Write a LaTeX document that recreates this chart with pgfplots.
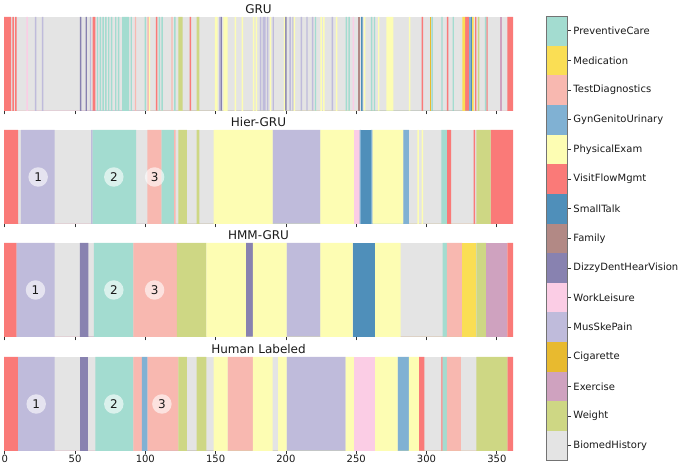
\documentclass[border=0pt]{standalone}
\usepackage{pgfplots}
\pgfplotsset{compat=1.18}
\usepackage{fontspec}
\setmainfont{DejaVu Sans}
\definecolor{cPrev}{RGB}{163,220,208}
\definecolor{cMed}{RGB}{250,222,84}
\definecolor{cTest}{RGB}{248,184,176}
\definecolor{cGyn}{RGB}{128,177,211}
\definecolor{cPhys}{RGB}{253,253,179}
\definecolor{cVisit}{RGB}{250,122,120}
\definecolor{cSmall}{RGB}{79,143,186}
\definecolor{cFam}{RGB}{178,137,133}
\definecolor{cDizzy}{RGB}{136,130,176}
\definecolor{cWork}{RGB}{251,205,229}
\definecolor{cMus}{RGB}{191,187,219}
\definecolor{cCig}{RGB}{232,186,47}
\definecolor{cExer}{RGB}{207,162,191}
\definecolor{cWeight}{RGB}{206,215,132}
\definecolor{cBio}{RGB}{228,228,228}
\pgfplotsset{
  panel/.style={scale only axis, width=381.75pt, height=70.5pt,
    xmin=-0.5, xmax=361.5, ymin=0, ymax=1, anchor=south west,
    axis x line*=bottom, axis y line=none, x axis line style={draw=none},
    xtick={0,50,...,350}, tick align=outside, major tick length=2.6pt,
    xtick style={color=black!80, line width=0.6pt}, ytick=\empty,
    every axis title/.style={at={(0.5,1)}, anchor=base, yshift=2.5pt,
      font=\fontsize{9}{11}\selectfont, text=black!90},
    xticklabel style={font=\fontsize{7.5}{9}\selectfont, text=black!90, inner sep=1pt, yshift=0.5pt},
    /pgf/number format/assume math mode=true},
  seg/.style={ybar interval, fill=#1, draw=none, forget plot},
  ann/.style={only marks, color=white, mark=*, mark size=7.3pt,
    mark options={fill=white, draw=white, draw opacity=0, fill opacity=0.6},
    nodes near coords, point meta=explicit symbolic,
    nodes near coords align={center},
    every node near coord/.append style={font=\fontsize{9}{10}\selectfont, text=black!90, text opacity=1, anchor=center}}
}
\begin{document}
\begin{tikzpicture}
\path[use as bounding box] (0,0) rectangle (510pt,349.5pt);
% ---------------- GRU
\begin{axis}[panel, at={(3pt,266.25pt)}, title={GRU}, xticklabels={}]
\addplot[seg=cBio] coordinates {(-0.5,1)(361.5,0)};
\addplot[seg=cVisit] coordinates {(-0.5,1)(4.5,0)(5.5,1)(6.5,0)(7.5,1)(8.5,0)(62.5,1)(64.5,0)(107.5,1)(108.5,0)(131.5,1)(132.5,0)(296.5,1)(297.5,0)(314.5,1)(315.5,0)(327.5,1)(330.5,0)(334.5,1)(335.5,0)(342.5,1)(343.5,0)(357.5,1)(361.5,0)};
\addplot[seg=cWork] coordinates {(15.5,1)(16.5,0)(247.5,1)(248.5,0)};
\addplot[seg=cMus] coordinates {(21.5,1)(22.5,0)(26.5,1)(27.5,0)(60.5,1)(61.5,0)(152.5,1)(153.5,0)(181.5,1)(182.5,0)(183.5,1)(185.5,0)(186.5,1)(187.5,0)(190.5,1)(191.5,0)(202.5,1)(203.5,0)(204.5,1)(205.5,0)(210.5,1)(211.5,0)(214.5,1)(215.5,0)(218.5,1)(219.5,0)(232.5,1)(233.5,0)};
\addplot[seg=cDizzy] coordinates {(53.5,1)(54.5,0)(57.5,1)(58.5,0)(153.5,1)(154.5,0)(199.5,1)(200.5,0)};
\addplot[seg=cPrev] coordinates {(65.5,1)(66.5,0)(67.5,1)(68.5,0)(69.5,1)(70.5,0)(71.5,1)(72.5,0)(73.5,1)(74.5,0)(75.5,1)(76.5,0)(78.5,1)(79.5,0)(80.5,1)(81.5,0)(83.5,1)(88.5,0)(89.5,1)(90.5,0)(99.5,1)(100.5,0)(109.5,1)(110.5,0)(111.5,1)(112.5,0)(120.5,1)(121.5,0)(220.5,1)(221.5,0)(242.5,1)(243.5,0)(244.5,1)(245.5,0)(260.5,1)(261.5,0)(262.5,1)(263.5,0)(303.5,1)(304.5,0)(310.5,1)(311.5,0)(318.5,1)(319.5,0)(341.5,1)(342.5,0)};
\addplot[seg=cTest] coordinates {(92.5,1)(93.5,0)(101.5,1)(102.5,0)(118.5,1)(119.5,0)};
\addplot[seg=cWeight] coordinates {(123.5,1)(126.5,0)(136.5,1)(138.5,0)(336.5,1)(337.5,0)};
\addplot[seg=cPhys] coordinates {(102.5,1)(103.5,0)(149.5,1)(151.5,0)(155.5,1)(158.5,0)(163.5,1)(164.5,0)(168.5,1)(169.5,0)(176.5,1)(177.5,0)(178.5,1)(179.5,0)(188.5,1)(189.5,0)(198.5,1)(199.5,0)(205.5,1)(206.5,0)(224.5,1)(225.5,0)(226.5,1)(227.5,0)(235.5,1)(236.5,0)(255.5,1)(256.5,0)(265.5,1)(266.5,0)(271.5,1)(276.5,0)(287.5,1)(288.5,0)};
\addplot[seg=cSmall] coordinates {(253.5,1)(254.5,0)(331.5,1)(332.5,0)};
\addplot[seg=cFam] coordinates {(251.5,1)(252.5,0)};
\addplot[seg=cCig] coordinates {(302.5,1)(303.5,0)};
\addplot[seg=cMed] coordinates {(325.5,1)(327.5,0)(332.5,1)(333.5,0)};
\addplot[seg=cGyn] coordinates {(330.5,1)(331.5,0)};
\addplot[seg=cExer] coordinates {(352.5,1)(353.5,0)};
\end{axis}
% ---------------- Hier-GRU
\begin{axis}[panel, at={(3pt,181.5pt)}, title={Hier-GRU}, xticklabels={}]
\addplot[seg=cBio] coordinates {(-0.5,1)(361.5,0)};
\addplot[seg=cVisit] coordinates {(-0.5,1)(9.5,0)(314.5,1)(317.5,0)(333.5,1)(334.5,0)(345.5,1)(361.5,0)};
\addplot[seg=cMus] coordinates {(11.5,1)(35.5,0)(61.5,1)(62.5,0)(190.5,1)(224.5,0)};
\addplot[seg=cPrev] coordinates {(62.5,1)(93.5,0)(111.5,1)(120.5,0)(310.5,1)(314.5,0)};
\addplot[seg=cTest] coordinates {(101.5,1)(111.5,0)(120.5,1)(121.5,0)};
\addplot[seg=cWeight] coordinates {(123.5,1)(129.5,0)(136.5,1)(138.5,0)(335.5,1)(345.5,0)};
\addplot[seg=cPhys] coordinates {(148.5,1)(190.5,0)(224.5,1)(248.5,0)(261.5,1)(283.5,0)(293.5,1)(294.5,0)(296.5,1)(297.5,0)};
\addplot[seg=cWork] coordinates {(248.5,1)(252.5,0)};
\addplot[seg=cGyn] coordinates {(252.5,1)(253.5,0)(260.5,1)(261.5,0)(283.5,1)(287.5,0)};
\addplot[seg=cSmall] coordinates {(253.5,1)(260.5,0)};
\addplot[ann] coordinates {(23.8,0.5)[1] (77.6,0.5)[2] (106.6,0.5)[3]};
\end{axis}
% ---------------- HMM-GRU
\begin{axis}[panel, at={(3pt,96.75pt)}, title={HMM-GRU}, xticklabels={}]
\addplot[seg=cBio] coordinates {(-0.5,1)(361.5,0)};
\addplot[seg=cVisit] coordinates {(-0.5,1)(8.5,0)(357.5,1)(361.5,0)};
\addplot[seg=cMus] coordinates {(8.5,1)(35.5,0)(200.5,1)(224.5,0)};
\addplot[seg=cDizzy] coordinates {(53.5,1)(59.5,0)(171.5,1)(176.5,0)};
\addplot[seg=cPrev] coordinates {(63.5,1)(91.5,0)(311.5,1)(314.5,0)};
\addplot[seg=cTest] coordinates {(91.5,1)(122.5,0)(314.5,1)(325.5,0)};
\addplot[seg=cWeight] coordinates {(122.5,1)(143.5,0)(335.5,1)(342.5,0)};
\addplot[seg=cPhys] coordinates {(143.5,1)(171.5,0)(176.5,1)(200.5,0)(224.5,1)(247.5,0)(263.5,1)(281.5,0)};
\addplot[seg=cSmall] coordinates {(247.5,1)(263.5,0)};
\addplot[seg=cMed] coordinates {(325.5,1)(335.5,0)};
\addplot[seg=cExer] coordinates {(342.5,1)(357.5,0)};
\addplot[ann] coordinates {(21.9,0.5)[1] (77.6,0.5)[2] (106.6,0.5)[3]};
\end{axis}
% ---------------- Human Labeled
\begin{axis}[panel, at={(3pt,11.25pt)}, title={Human Labeled}]
\addplot[seg=cBio] coordinates {(-0.5,1)(361.5,0)};
\addplot[seg=cVisit] coordinates {(-0.5,1)(9.5,0)(294.5,1)(298.5,0)(310.5,1)(311.5,0)(357.5,1)(361.5,0)};
\addplot[seg=cMus] coordinates {(9.5,1)(35.5,0)(200.5,1)(242.5,0)};
\addplot[seg=cDizzy] coordinates {(53.5,1)(59.5,0)};
\addplot[seg=cPrev] coordinates {(64.5,1)(91.5,0)(311.5,1)(314.5,0)};
\addplot[seg=cTest] coordinates {(91.5,1)(97.5,0)(101.5,1)(123.5,0)(158.5,1)(176.5,0)(314.5,1)(324.5,0)};
\addplot[seg=cGyn] coordinates {(97.5,1)(101.5,0)(279.5,1)(287.5,0)};
\addplot[seg=cWeight] coordinates {(123.5,1)(129.5,0)(136.5,1)(143.5,0)(335.5,1)(357.5,0)};
\addplot[seg=cPhys] coordinates {(148.5,1)(158.5,0)(176.5,1)(190.5,0)(194.5,1)(200.5,0)(242.5,1)(248.5,0)(263.5,1)(279.5,0)(287.5,1)(294.5,0)};
\addplot[seg=cWork] coordinates {(248.5,1)(263.5,0)};
\addplot[ann] coordinates {(22.4,0.5)[1] (77.6,0.5)[2] (111.8,0.5)[3]};
\end{axis}
% ---------------- colour bar
\begin{axis}[scale only axis, width=16.3pt, height=333.5pt, at={(409.5pt,4pt)}, anchor=south west,
  xmin=0, xmax=1, ymin=0, ymax=15, xtick=\empty,
  ytick={0.5,1.5,...,14.5},
  yticklabels={BiomedHistory,Weight,Exercise,Cigarette,MusSkePain,WorkLeisure,DizzyDentHearVision,Family,SmallTalk,VisitFlowMgmt,PhysicalExam,GynGenitoUrinary,TestDiagnostics,Medication,PreventiveCare},
  yticklabel pos=right, ytick pos=right, tick align=outside, major tick length=2.6pt,
  ytick style={color=black!80, line width=0.6pt},
  yticklabel style={font=\fontsize{7.5}{9}\selectfont, text=black!90, inner sep=1.5pt},
  axis line style={color=black!55, line width=0.6pt}, axis on top]
\addplot[xbar interval, fill=cBio, draw=none] coordinates {(1,0)(1,1)};
\addplot[xbar interval, fill=cWeight, draw=none] coordinates {(1,1)(1,2)};
\addplot[xbar interval, fill=cExer, draw=none] coordinates {(1,2)(1,3)};
\addplot[xbar interval, fill=cCig, draw=none] coordinates {(1,3)(1,4)};
\addplot[xbar interval, fill=cMus, draw=none] coordinates {(1,4)(1,5)};
\addplot[xbar interval, fill=cWork, draw=none] coordinates {(1,5)(1,6)};
\addplot[xbar interval, fill=cDizzy, draw=none] coordinates {(1,6)(1,7)};
\addplot[xbar interval, fill=cFam, draw=none] coordinates {(1,7)(1,8)};
\addplot[xbar interval, fill=cSmall, draw=none] coordinates {(1,8)(1,9)};
\addplot[xbar interval, fill=cVisit, draw=none] coordinates {(1,9)(1,10)};
\addplot[xbar interval, fill=cPhys, draw=none] coordinates {(1,10)(1,11)};
\addplot[xbar interval, fill=cGyn, draw=none] coordinates {(1,11)(1,12)};
\addplot[xbar interval, fill=cTest, draw=none] coordinates {(1,12)(1,13)};
\addplot[xbar interval, fill=cMed, draw=none] coordinates {(1,13)(1,14)};
\addplot[xbar interval, fill=cPrev, draw=none] coordinates {(1,14)(1,15)};
\end{axis}
\end{tikzpicture}
\end{document}
